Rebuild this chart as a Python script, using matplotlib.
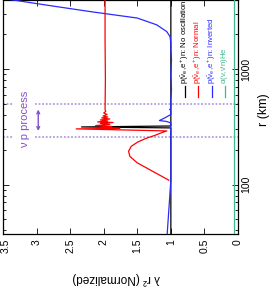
import matplotlib
matplotlib.use('Agg')
import matplotlib.pyplot as plt
import matplotlib.transforms as mtransforms
from matplotlib.ticker import LogLocator, NullFormatter

plt.rcParams['font.family'] = ['Liberation Sans', 'DejaVu Sans']
plt.rcParams['mathtext.fontset'] = 'custom'
plt.rcParams['mathtext.rm'] = 'Liberation Sans'
plt.rcParams['mathtext.it'] = 'Liberation Sans'
plt.rcParams['mathtext.bf'] = 'Liberation Sans:bold'

# ---------------- data ----------------
# No oscillation
r_noosc = [37, 300, 309, 315, 321, 1000, 4100]
v_noosc = [1.0, 1.0, 1.0, 2.33, 1.0, 1.0, 1.0]

# Normal hierarchy
r_normal = [109, 130, 154, 175, 194, 214, 232, 251, 266, 282, 291, 303, 306, 312, 318,
            324, 331, 338, 344, 348, 355, 362, 369, 377, 384, 392, 404, 416, 429, 446,
            809, 1789, 4100]
v_normal = [1.03, 1.27, 1.50, 1.61, 1.63, 1.59, 1.50, 1.37, 1.24, 1.13, 1.06, 2.41, 1.76, 2.05, 1.88,
            2.12, 1.91, 2.05, 1.86, 2.09, 1.94, 2.05, 1.91, 2.03, 1.94, 2.01, 1.95, 2.00, 1.97, 1.98,
            1.975, 1.98, 1.98]

# Inverted hierarchy
r_inv = [37, 109, 202, 300, 341, 351, 358, 380, 404, 429, 440, 446, 452, 464, 544, 663, 893,
         1203, 1467, 1685, 1910, 2109, 2409, 2760, 3138, 3535, 3954, 4100]
v_inv = [1.055, 1.0, 1.0, 1.0, 1.0, 1.06, 1.17, 1.08, 1.0, 1.0, 1.0, 1.02, 1.0, 1.0, 1.0, 0.99, 1.0,
         0.99, 1.0, 1.0, 1.013, 1.062, 1.21, 1.50, 2.20, 2.80, 3.35, 3.53]

# alpha(nu,nu'n)He
r_alpha = [37, 4100]
v_alpha = [0.06, 0.06]

labels = [r'p($\bar{\nu}_e$,e$^+$)n: No oscillation',
          r'p($\bar{\nu}_e$,e$^+$)n: Normal',
          r'p($\bar{\nu}_e$,e$^+$)n: Inverted',
          r"$\alpha$($\nu$,$\nu$'n)He"]
colors = ['black', '#ff0000', '#2a2aff', '#3cb88c']

x_ticks = [0, 0.5, 1, 1.5, 2, 2.5, 3, 3.5]
x_ticklabels = ['0', '0.5', '1', '1.5', '2', '2.5', '3', '3.5']
r_ticks = [100, 1000]
r_ticklabels = ['100', '1000']

# nu-p process region boundaries (r in km)
vp_lo, vp_hi = 257, 500
purple_line = '#b49ddf'
purple = '#8450c8'

# ---------------- figure ----------------
W, H = 269, 291
fig = plt.figure(figsize=(W / 100, H / 100), dpi=100)
ax = fig.add_axes([3 / W, 1 - 234 / H, 235 / W, 234 / H])

# dotted boundary lines (gap around the label)
for rr in (vp_lo, vp_hi):
    ax.plot([3.5, 3.35], [rr, rr], color=purple_line, lw=1.3, ls=(0, (1, 1)), zorder=1)
    ax.plot([3.02, 0], [rr, rr], color=purple_line, lw=1.3, ls=(0, (1, 1)), zorder=1)

series = [(v_noosc, r_noosc), (v_normal, r_normal), (v_inv, r_inv), (v_alpha, r_alpha)]
for (vv, rr), c in zip(series, colors):
    ax.plot(vv, rr, color=c, lw=0.9, zorder=3)

ax.set_yscale('log')
ax.set_ylim(37.3, 3954)
ax.set_xlim(3.5, 0)

ax.annotate('', xy=(2.975, 291), xytext=(2.975, 446),
            arrowprops=dict(arrowstyle='<->', color=purple, lw=1.0, mutation_scale=5,
                            shrinkA=0, shrinkB=0))
ax.text(3.17, 365, 'ν p process', rotation=90, ha='center', va='center',
        color=purple, fontsize=8)

# legend (drawn manually, rotated)
leg_x = [185, 198.3, 211.6, 224.8]
for xp, lab, c in zip(leg_x, labels, colors):
    xa = (xp - 3) / 235
    ax.plot([xa, xa], [1 - 86 / 234, 1 - 97 / 234], color=c, lw=0.9,
            transform=ax.transAxes, clip_on=False, zorder=4)
    ax.text(xa, 1 - 84 / 234, lab, rotation=90, ha='center', va='bottom',
            color=c, fontsize=5.6, transform=ax.transAxes)

# ticks
ax.set_xticks(x_ticks, labels=x_ticklabels, rotation=90, ha='center', va='top', fontsize=7.5)
ax.yaxis.tick_right()
ax.set_yticks(r_ticks, labels=r_ticklabels, rotation=90, ha='left', va='center', fontsize=7.5)
ax.yaxis.set_minor_locator(LogLocator(base=10, subs=range(2, 10)))
ax.yaxis.set_minor_formatter(NullFormatter())
ax.tick_params(axis='both', which='both', direction='in', top=True, bottom=True,
               left=True, right=True, labelleft=False, labelright=True, width=0.6)
ax.tick_params(axis='both', which='major', length=4)
ax.tick_params(axis='y', which='minor', length=2)
ax.tick_params(axis='x', which='major', pad=3.5)
ax.tick_params(axis='y', which='major', pad=2.5)
for s in ax.spines.values():
    s.set_linewidth(0.9)

# nudge the edge label "3.5" so it stays inside the figure
edge_lbl = ax.xaxis.get_major_ticks()[-1].label1
edge_lbl.set_transform(edge_lbl.get_transform() +
                       mtransforms.ScaledTranslation(2.5 / 100, 0, fig.dpi_scale_trans))

fig.text(264 / W, 1 - 110 / H, 'r (km)', rotation=90, ha='center', va='center', fontsize=9)
fig.text(116 / W, 1 - 278 / H, 'λ r² (Normalized)', rotation=180, ha='center', va='center',
         fontsize=8.5)

fig.savefig('out.png', dpi=100, facecolor='white')
